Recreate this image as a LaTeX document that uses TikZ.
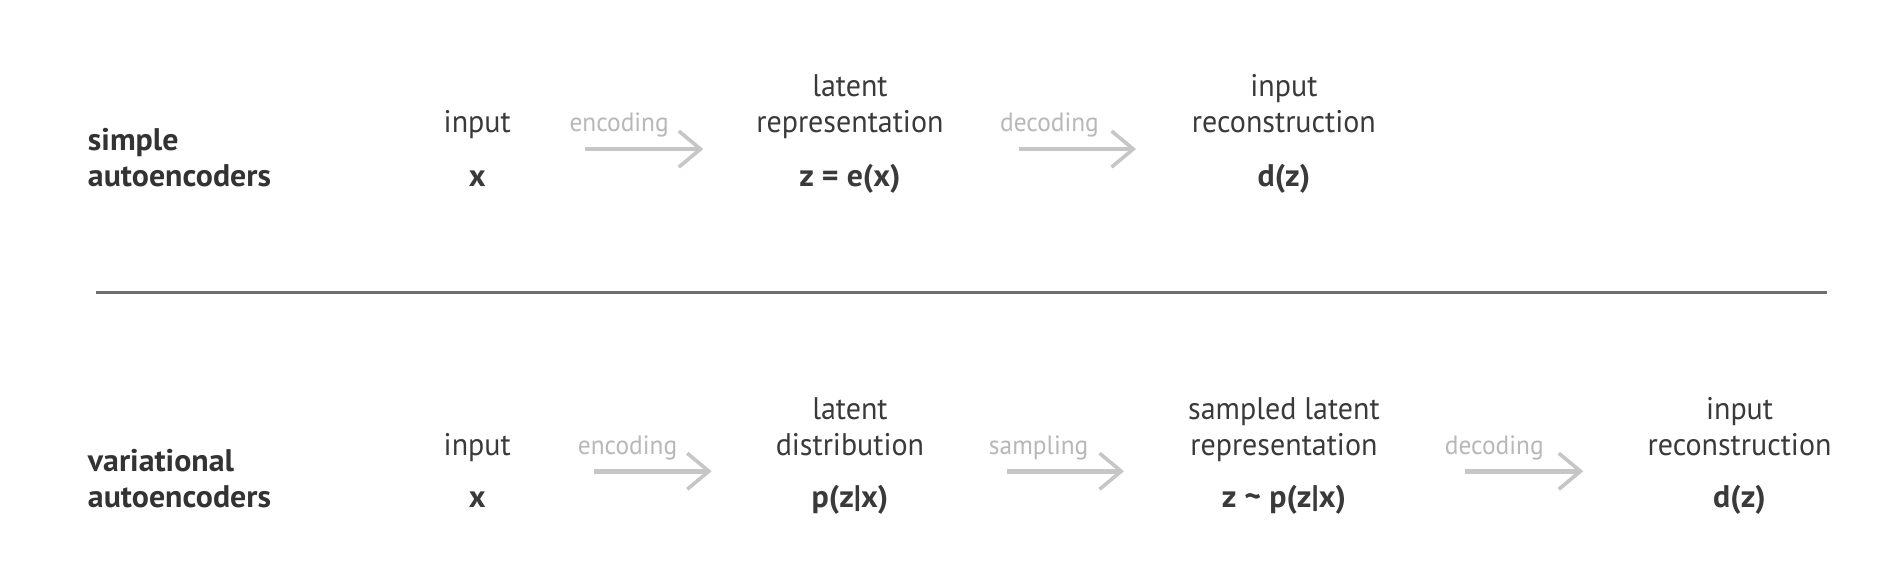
\documentclass[tikz,border=0pt]{standalone}
\usepackage{fontspec}
\setmainfont{PT Sans}[FakeStretch=0.96, BoldFeatures={FakeStretch=1.02}]
\usetikzlibrary{arrows.meta}
\definecolor{txt}{HTML}{3A3A3A}
\definecolor{dark}{HTML}{333333}
\definecolor{light}{HTML}{B8B8B8}
\definecolor{arr}{HTML}{C6C6C6}
\definecolor{rule}{HTML}{6E6E6E}
\begin{document}
\begin{tikzpicture}[x=1pt,y=-1pt,
  lbl/.style={anchor=base, align=center, font=\fontsize{26}{30}\selectfont, text=txt, inner sep=0pt},
  frm/.style={anchor=base, font=\fontsize{26}{30}\selectfont\bfseries, text=txt, inner sep=0pt},
  head/.style={anchor=base west, align=left, font=\fontsize{26}{30}\selectfont\bfseries, text=dark, inner sep=0pt},
  op/.style={anchor=base, font=\fontsize{22}{26}\selectfont, text=light, inner sep=0pt},
  flow/.style={draw=arr, line width=4pt, -{Straight Barb[length=18pt,width=30pt,line width=3pt]}}]
\useasboundingbox[fill=white] (0,0) rectangle (1568,489);

% top row
\node[head] (h1) at (73,155) {simple\\autoencoders};
\node[lbl] (in1) at (397,110) {input};
\node[frm] (x1) at (397,155) {x};
\node[op] (enc1) at (515,109) {encoding};
\coordinate (e1s) at (487,124); \coordinate (e1e) at (585,124);
\draw[flow] (e1s) -- (e1e);
\node[lbl] (lat1) at (707,110) {latent\\representation};
\node[frm] (z1) at (707,155) {z = e(x)};
\node[op] (dec1) at (873,109) {decoding};
\coordinate (d1s) at (848,124); \coordinate (d1e) at (945,124);
\draw[flow] (d1s) -- (d1e);
\node[lbl] (rec1) at (1068,110) {input\\reconstruction};
\node[frm] (dz1) at (1068,155) {d(z)};

% separator
\coordinate (ls) at (80,243); \coordinate (le) at (1520,243);
\draw[rule, line width=2.5pt] (ls) -- (le);

% bottom row
\node[head] (h2) at (73,422) {variational\\autoencoders};
\node[lbl] (in2) at (397,379) {input};
\node[frm] (x2) at (397,422) {x};
\node[op] (enc2) at (522,378) {encoding};
\coordinate (e2s) at (494,392); \coordinate (e2e) at (592,392);
\draw[flow] (e2s) -- (e2e);
\node[lbl] (lat2) at (707,379) {latent\\distribution};
\node[frm] (p2) at (707,422) {p(z|x)};
\node[op] (smp2) at (864,378) {sampling};
\coordinate (s2s) at (838,392); \coordinate (s2e) at (935,392);
\draw[flow] (s2s) -- (s2e);
\node[lbl] (sl2) at (1068,379) {sampled latent\\representation};
\node[frm] (zs2) at (1068,422) {z \textasciitilde{} p(z|x)};
\node[op] (dec2) at (1243,378) {decoding};
\coordinate (d2s) at (1219,392); \coordinate (d2e) at (1317,392);
\draw[flow] (d2s) -- (d2e);
\node[lbl] (rec2) at (1447,379) {input\\reconstruction};
\node[frm] (dz2) at (1447,422) {d(z)};
\end{tikzpicture}
\end{document}
